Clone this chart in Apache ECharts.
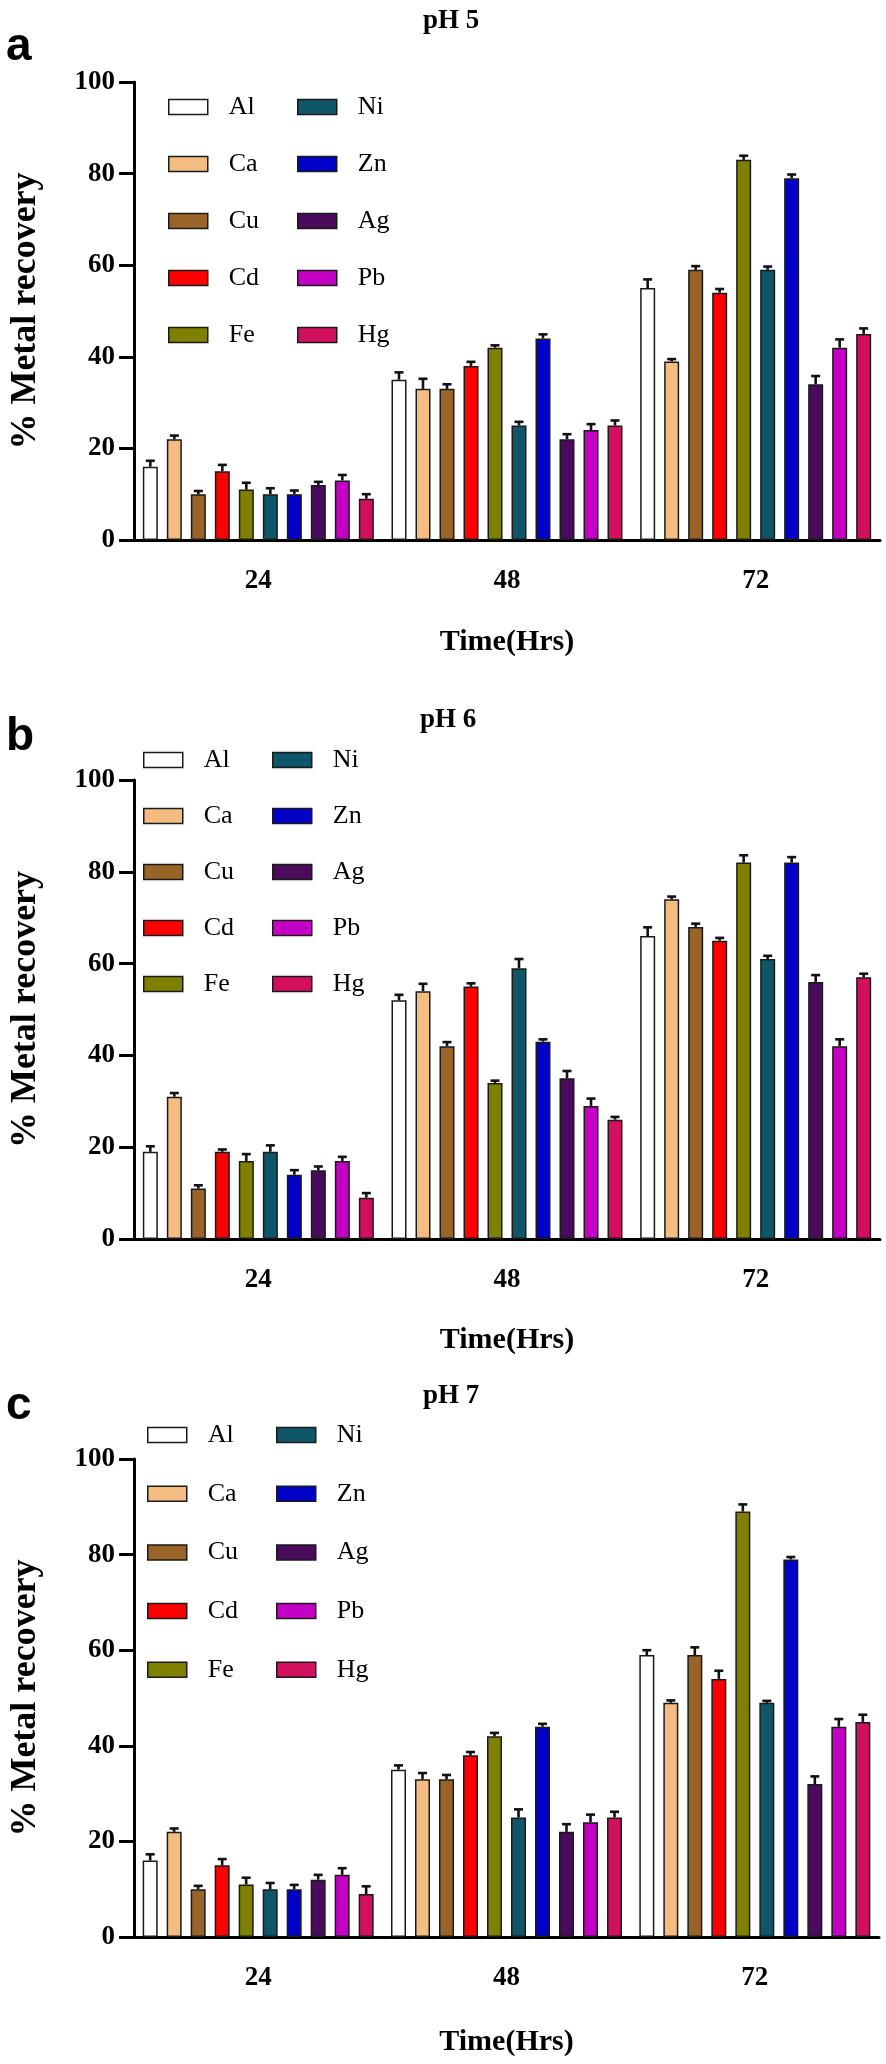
<!DOCTYPE html>
<html>
<head>
<meta charset="utf-8">
<script src="https://cdn.jsdelivr.net/npm/echarts@6/dist/echarts.min.js"></script>
<style>
html,body{margin:0;padding:0;background:#fff;}
#chart{width:886px;height:2064px;}
</style>
</head>
<body>
<div id="chart"></div>
<script>
// ---- data ----
const categories = ['24', '48', '72'];
const metals = ['Al', 'Ca', 'Cu', 'Cd', 'Fe', 'Ni', 'Zn', 'Ag', 'Pb', 'Hg'];
const colors = ['#FFFFFF', '#F5BC82', '#9A6428', '#FF0000', '#808000', '#0E5668', '#0000C8', '#4B0B5C', '#C400C4', '#D2105E'];
const panelTitles = ['pH 5', 'pH 6', 'pH 7'];
const panelLetters = ['a', 'b', 'c'];
const yTicks = [0, 20, 40, 60, 80, 100];

// values per metal at 24, 48, 72 h
const pH5 = {
  Al: [16, 35, 55], Ca: [22, 33, 39], Cu: [10, 33, 59], Cd: [15, 38, 54], Fe: [11, 42, 83],
  Ni: [10, 25, 59], Zn: [10, 44, 79], Ag: [12, 22, 34], Pb: [13, 24, 42], Hg: [9, 25, 45]
};
const pH5err = {
  Al: [1.3, 1.6, 1.9], Ca: [0.8, 2.2, 0.5], Cu: [0.7, 1.0, 0.8], Cd: [1.4, 0.9, 0.8], Fe: [1.5, 0.5, 0.9],
  Ni: [1.3, 0.8, 0.7], Zn: [0.8, 0.9, 0.8], Ag: [0.7, 1.1, 1.8], Pb: [1.2, 1.3, 1.8], Hg: [1.0, 1.1, 1.2]
};
const pH6 = {
  Al: [19, 52, 66], Ca: [31, 54, 74], Cu: [11, 42, 68], Cd: [19, 55, 65], Fe: [17, 34, 82],
  Ni: [19, 59, 61], Zn: [14, 43, 82], Ag: [15, 35, 56], Pb: [17, 29, 42], Hg: [9, 26, 57]
};
const pH6err = {
  Al: [1.2, 1.2, 1.9], Ca: [0.8, 1.6, 0.6], Cu: [0.7, 0.9, 0.7], Cd: [0.5, 0.7, 0.6], Fe: [1.5, 0.5, 1.6],
  Ni: [1.4, 2.0, 0.7], Zn: [1.0, 0.5, 1.2], Ag: [0.8, 1.6, 1.5], Pb: [0.9, 1.6, 1.5], Hg: [1.0, 0.6, 0.8]
};
const pH7 = {
  Al: [16, 35, 59], Ca: [22, 33, 49], Cu: [10, 33, 59], Cd: [15, 38, 54], Fe: [11, 42, 89],
  Ni: [10, 25, 49], Zn: [10, 44, 79], Ag: [12, 22, 32], Pb: [13, 24, 44], Hg: [9, 25, 45]
};
const pH7err = {
  Al: [1.3, 0.9, 1.0], Ca: [0.7, 1.3, 0.5], Cu: [0.7, 0.9, 1.6], Cd: [1.3, 0.7, 1.7], Fe: [1.4, 0.7, 1.5],
  Ni: [1.3, 1.7, 0.4], Zn: [0.9, 0.6, 0.5], Ag: [1.0, 1.6, 1.6], Pb: [1.4, 1.6, 1.6], Hg: [1.6, 1.2, 1.5]
};
const panelValues = [pH5, pH6, pH7];
const panelErrors = [pH5err, pH6err, pH7err];

// ---- layout ----
const SERIF = '"Liberation Serif", "Times New Roman", serif';
const SANS = '"Liberation Sans", Arial, sans-serif';
const BAR_W = 15, BAR_GAP = 9;
const grids = [
  { left: 123, right: 6, top: 82, height: 458 },
  { left: 122, right: 6, top: 780, height: 459 },
  { left: 124, right: 7, top: 1459, height: 478 }
];
const titlePos = [
  { left: 423, top: 8 }, { left: 420, top: 707 }, { left: 423, top: 1383 }
];
const letterPos = [
  { left: 6, top: 24 }, { left: 6, top: 714 }, { left: 6, top: 1383 }
];
const legendPos = [
  { left1: 168, left2: 297, top: 94, gap: 31 },
  { left1: 143, left2: 272, top: 747, gap: 30 },
  { left1: 147, left2: 276, top: 1422, gap: 32.7 }
];
const xNameGap = [87, 86, 90];

const chart = echarts.init(document.getElementById('chart'), null, { renderer: 'canvas' });

const title = [];
const legend = [];
const xAxis = [];
const yAxis = [];
const series = [];

for (let p = 0; p < 3; p++) {
  title.push({
    text: panelTitles[p], left: titlePos[p].left, top: titlePos[p].top, padding: 0,
    textStyle: { fontFamily: SERIF, fontWeight: 'bold', fontSize: 27, color: '#000', lineHeight: 27 }
  });
  title.push({
    text: panelLetters[p], left: letterPos[p].left, top: letterPos[p].top, padding: 0,
    textStyle: { fontFamily: SANS, fontWeight: 'bold', fontSize: 46, color: '#000', lineHeight: 46 }
  });
  [metals.slice(0, 5), metals.slice(5)].forEach((names, k) => {
    legend.push({
      data: names, orient: 'vertical', left: k === 0 ? legendPos[p].left1 : legendPos[p].left2,
      top: legendPos[p].top, itemGap: legendPos[p].gap, itemWidth: 39, itemHeight: 15, padding: 0,
      selectedMode: false, icon: 'rect',
      itemStyle: { borderColor: '#1a1a1a', borderWidth: 1.5 },
      textStyle: { fontFamily: SERIF, fontSize: 26, color: '#000', lineHeight: 25, padding: [0, 0, 0, 16] }
    });
  });
  xAxis.push({
    type: 'category', gridIndex: p, data: categories,
    name: 'Time(Hrs)', nameLocation: 'middle', nameGap: xNameGap[p],
    nameTextStyle: { fontFamily: SERIF, fontWeight: 'bold', fontSize: 30, color: '#000' },
    axisLine: { lineStyle: { color: '#000', width: 3 } },
    axisTick: { alignWithLabel: true, length: 15, lineStyle: { color: '#000', width: 3 } },
    axisLabel: { fontFamily: SERIF, fontWeight: 'bold', fontSize: 27, color: '#000', margin: 28 }
  });
  yAxis.push({
    type: 'value', gridIndex: p, min: 0, max: 100, interval: 20,
    name: '% Metal recovery', nameLocation: 'middle', nameGap: 90,
    nameTextStyle: { fontFamily: SERIF, fontWeight: 'bold', fontSize: 36, color: '#000' },
    axisLine: { show: true, lineStyle: { color: '#000', width: 3 } },
    axisTick: { show: true, length: 15, lineStyle: { color: '#000', width: 3 } },
    axisLabel: { fontFamily: SERIF, fontWeight: 'bold', fontSize: 27, color: '#000', margin: 19,
      formatter: v => (yTicks.indexOf(v) >= 0 ? String(v) : '') },
    splitLine: { show: false }
  });
  metals.forEach((m, i) => {
    series.push({
      type: 'bar', name: m, xAxisIndex: p, yAxisIndex: p,
      data: panelValues[p][m], barWidth: BAR_W, barGap: (BAR_GAP / BAR_W * 100) + '%',
      itemStyle: { color: colors[i], borderColor: '#1a1a1a', borderWidth: 1.5 },
      emphasis: { disabled: true }, animation: false, z: 2
    });
  });
  metals.forEach((m, i) => {
    const offset = (i - (metals.length - 1) / 2) * (BAR_W + BAR_GAP);
    series.push({
      type: 'custom', name: m + ' error', xAxisIndex: p, yAxisIndex: p,
      data: panelValues[p][m].map((v, c) => [c, v, panelErrors[p][m][c]]),
      encode: { x: 0, y: 1 }, z: 5, animation: false,
      renderItem: function (params, api) {
        const c = api.value(0), v = api.value(1), e = api.value(2);
        const base = api.coord([c, v]);
        const top = api.coord([c, v + e]);
        const x = base[0] + offset;
        const st = { stroke: '#111', lineWidth: 2.6 };
        return {
          type: 'group', children: [
            { type: 'line', shape: { x1: x, y1: base[1], x2: x, y2: top[1] }, style: st },
            { type: 'line', shape: { x1: x - 4.5, y1: top[1], x2: x + 4.5, y2: top[1] }, style: st }
          ]
        };
      }
    });
  });
}

chart.setOption({
  backgroundColor: '#fff',
  animation: false,
  title: title,
  legend: legend,
  grid: grids,
  xAxis: xAxis,
  yAxis: yAxis,
  series: series
});
</script>
</body>
</html>
